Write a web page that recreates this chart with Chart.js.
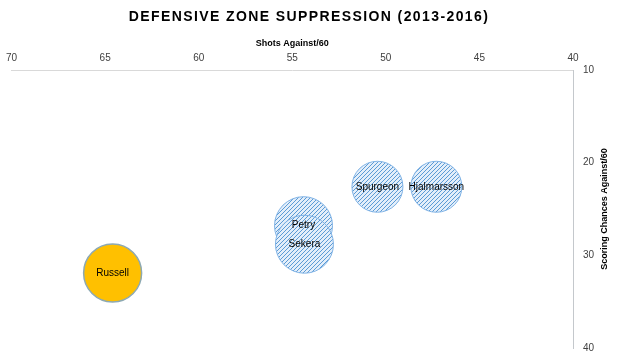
<!DOCTYPE html>
<html>
<head>
<meta charset="utf-8">
<script src="https://cdn.jsdelivr.net/npm/chart.js@4.4.0/dist/chart.umd.min.js"></script>
<style>
	html, body { margin:0; padding:0; background:#fff; }
</style>
</head>
<body>
<canvas id="chart" width="618" height="364"></canvas>
<script>
// values
var players        = ['Petry', 'Sekera', 'Spurgeon', 'Hjalmarsson'];
var shotsAgainst   = [54.4, 54.35, 50.45, 47.3];
var chancesAgainst = [26.8, 28.8, 22.6, 22.6];
var bubbleSize     = [29, 29, 25.5, 25.5];

var highlightName   = ['Russell'];
var highlightShots  = [64.6];
var highlightChance = [31.9];
var highlightSize   = [29];

var xMin = 40, xMax = 70, xStep = 5;
var yMin = 10, yMax = 40, yStep = 10;

var FONT = "'Liberation Sans', Arial, sans-serif";

var canvas = document.getElementById('chart');
var ctx = canvas.getContext('2d');

// diagonal hatch like the excel pattern fill
var hatch = function()
{
	var c = document.createElement('canvas');
	c.width = 4; c.height = 4;
	var g = c.getContext('2d');
	g.fillStyle = '#e3eefa';
	g.fillRect(0, 0, 4, 4);
	g.strokeStyle = '#5b9bd5';
	g.lineWidth = 1;
	g.beginPath();
	g.moveTo(0, 4); g.lineTo(4, 0);
	g.moveTo(-1, 1); g.lineTo(1, -1);
	g.moveTo(3, 5); g.lineTo(5, 3);
	g.stroke();
	return ctx.createPattern(c, 'repeat');
};

var toPoints = function(xs, ys, rs)
{
	var out = [];
	for (var i = 0; i < xs.length; i++)
		out.push({ x: xs[i], y: ys[i], r: rs[i] });
	return out;
};

var bubbleLabels = {
	id: 'bubbleLabels',
	afterDatasetsDraw: function(chart)
	{
		var c = chart.ctx;
		c.save();
		c.font = '10px ' + FONT;
		c.fillStyle = '#000';
		c.textAlign = 'center';
		c.textBaseline = 'middle';
		chart.data.datasets.forEach(function(ds, di)
		{
			var meta = chart.getDatasetMeta(di);
			meta.data.forEach(function(el, i)
			{
				c.fillText(ds.names[i], el.x, el.y);
			});
		});
		c.restore();
	}
};

var titles = {
	id: 'titles',
	afterDraw: function(chart)
	{
		var c = chart.ctx;
		var area = chart.chartArea;
		c.save();
		c.fillStyle = '#000';
		c.textAlign = 'center';
		c.textBaseline = 'middle';
		c.font = 'bold 14px ' + FONT;
		c.letterSpacing = '1.4px';
		c.fillText('DEFENSIVE ZONE SUPPRESSION (2013-2016)', chart.width / 2, 17);
		c.letterSpacing = '0px';
		c.font = 'bold 9px ' + FONT;
		c.translate(605, (area.top + area.bottom) / 2);
		c.rotate(-Math.PI / 2);
		c.fillText('Scoring Chances Against/60', 0, 0);
		c.restore();
	}
};

new Chart(ctx, {
	type: 'bubble',
	data: {
		datasets: [
			{
				names: players,
				data: toPoints(shotsAgainst, chancesAgainst, bubbleSize),
				backgroundColor: hatch(),
				borderColor: '#7fb2e5',
				borderWidth: 1
			},
			{
				names: highlightName,
				data: toPoints(highlightShots, highlightChance, highlightSize),
				backgroundColor: '#ffc000',
				borderColor: '#8da9b2',
				borderWidth: 1.5
			}
		]
	},
	options: {
		responsive: false,
		animation: false,
		devicePixelRatio: 1,
		layout: { autoPadding: false, padding: { left: 10, right: 0, top: 0, bottom: 15 } },
		plugins: {
			legend: { display: false },
			tooltip: { enabled: false },
			title: { display: false }
		},
		scales: {
			x: {
				position: 'top',
				reverse: true,
				min: xMin, max: xMax,
				grid: { display: false, drawTicks: false },
				border: { display: true, color: '#d9d9d9' },
				ticks: { stepSize: xStep, padding: 6, color: '#404040', font: { family: FONT, size: 10 } },
				title: {
					display: true,
					text: 'Shots Against/60',
					color: '#000',
					font: { family: FONT, size: 9, weight: 'bold' },
					padding: { top: 38, bottom: 0 }
				},
				afterFit: function(scale) { scale.height = 70; }
			},
			y: {
				position: 'right',
				reverse: true,
				min: yMin, max: yMax,
				grid: { display: false, drawTicks: false },
				border: { display: true, color: '#c4c8cc' },
				ticks: { stepSize: yStep, padding: 10, color: '#404040', font: { family: FONT, size: 10 } },
				afterFit: function(scale) { scale.width = 45; }
			}
		}
	},
	plugins: [bubbleLabels, titles]
});
</script>
</body>
</html>
